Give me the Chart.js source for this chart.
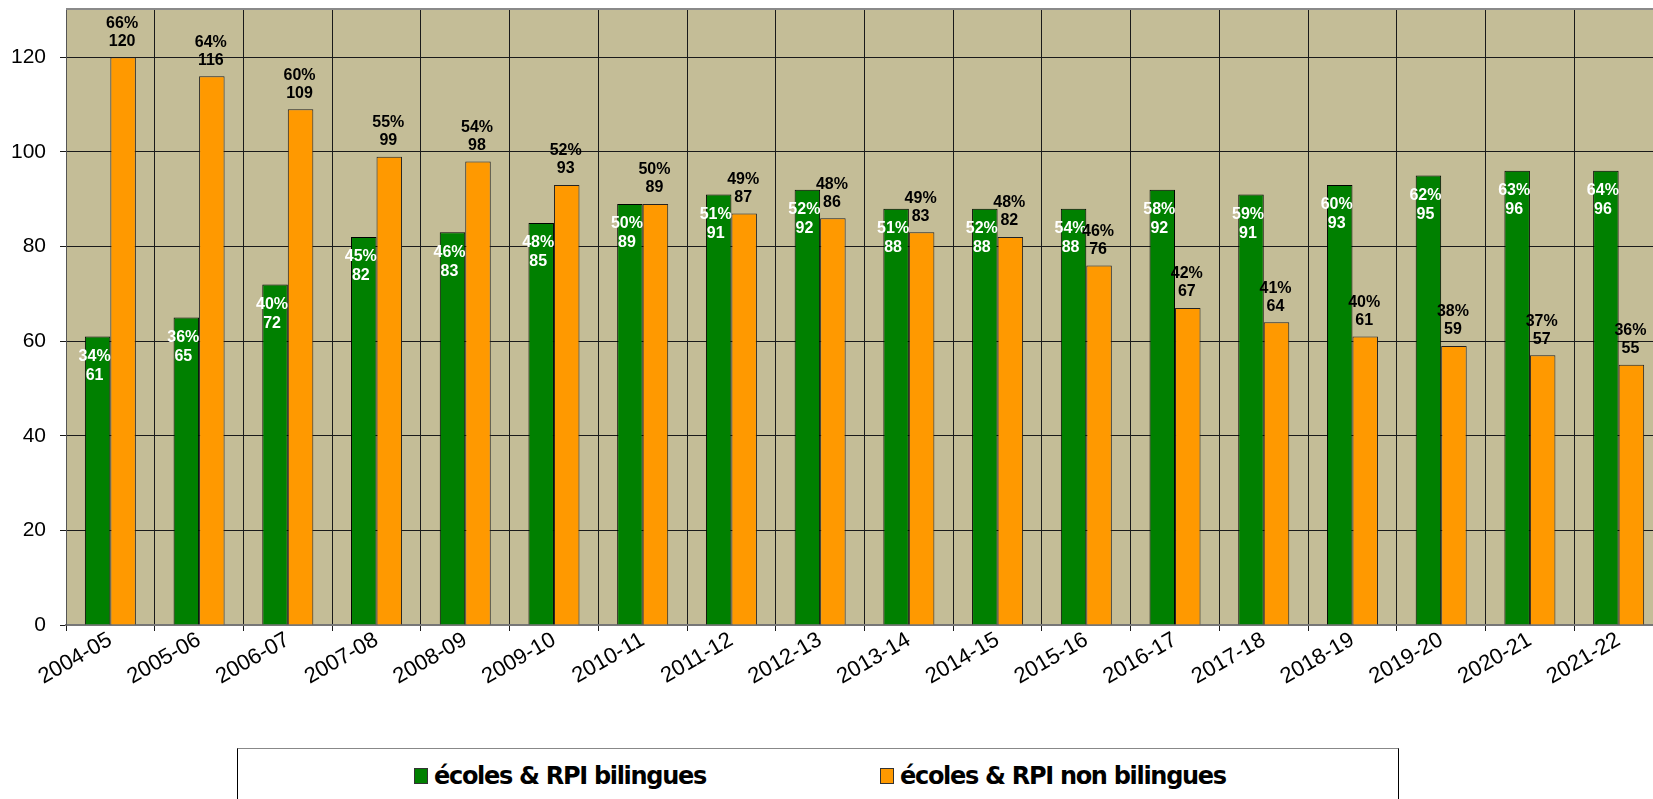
<!DOCTYPE html>
<html>
<head>
<meta charset="utf-8">
<script src="https://cdn.jsdelivr.net/npm/chart.js@4/dist/chart.umd.min.js"></script>
<style>
  html, body { margin: 0; padding: 0; background: #fff; overflow: hidden; width: 1653px; height: 799px; }
  #wrap { position: absolute; left: 0; top: 0; width: 1670px; height: 720px; }
  #legend { position: absolute; left: 237px; top: 748px; width: 1160px; height: 80px; background: #fff;
            border-top: 1px solid #888; border-left: 1px solid #000; border-right: 1px solid #000; }
  .item { position: absolute; top: 12px; font-family: "DejaVu Sans", sans-serif; font-weight: bold;
          font-size: 24px; color: #000; white-space: nowrap; line-height: 30px; letter-spacing: -1.3px; }
  .sw { display: inline-block; width: 12px; height: 14px; border: 1px solid #333; margin-right: 6px; vertical-align: 0px; }
</style>
</head>
<body>
<div id="wrap"><canvas id="c" width="1670" height="720"></canvas></div>
<div id="legend"></div>
<script>
const categories = ["2004-05","2005-06","2006-07","2007-08","2008-09","2009-10","2010-11","2011-12","2012-13","2013-14","2014-15","2015-16","2016-17","2017-18","2018-19","2019-20","2020-21","2021-22"];
const seriesNames = ["écoles & RPI bilingues", "écoles & RPI non bilingues"];
const bilingues = [61,65,72,82,83,85,89,91,92,88,88,88,92,91,93,95,96,96];
const nonBilingues = [120,116,109,99,98,93,89,87,86,83,82,76,67,64,61,59,57,55];
const pctBilingues = [34,36,40,45,46,48,50,51,52,51,52,54,58,59,60,62,63,64];
const pctNonBilingues = [66,64,60,55,54,52,50,49,48,49,48,46,42,41,40,38,37,36];
const yTicks = [0,20,40,60,80,100,120];

const GREEN = "#008000", ORANGE = "#FF9900", TAN = "#C4BD97";

const legend = document.getElementById('legend');
[[seriesNames[0], GREEN, 176], [seriesNames[1], ORANGE, 642]].forEach(([name, col, left]) => {
  const d = document.createElement('div');
  d.className = 'item';
  d.style.left = left + 'px';
  d.innerHTML = '<span class="sw" style="background:' + col + '"></span>' + name;
  legend.appendChild(d);
});

const bgPlugin = {
  id: 'bg',
  beforeDraw(chart) {
    const a = chart.chartArea, ctx = chart.ctx;
    ctx.save();
    ctx.fillStyle = TAN;
    ctx.fillRect(a.left, a.top, a.right - a.left, a.bottom - a.top);
    ctx.restore();
  },
  afterDraw(chart) {
    const a = chart.chartArea, ctx = chart.ctx;
    ctx.save();
    ctx.strokeStyle = '#8a8a8a';
    ctx.lineWidth = 2;
    ctx.beginPath();
    ctx.moveTo(a.left, a.top - 1);
    ctx.lineTo(a.right, a.top - 1);
    ctx.stroke();
    ctx.restore();
  }
};

const labelPlugin = {
  id: 'vlabels',
  afterDatasetsDraw(chart) {
    const ctx = chart.ctx;
    ctx.save();
    ctx.font = 'bold 16px "Liberation Sans", Arial, sans-serif';
    ctx.textAlign = 'center';
    ctx.textBaseline = 'middle';
    const m0 = chart.getDatasetMeta(0), m1 = chart.getDatasetMeta(1);
    m0.data.forEach((el, i) => {
      ctx.fillStyle = '#fff';
      ctx.fillText(pctBilingues[i] + '%', el.x - 3, el.y + 20);
      ctx.fillText(String(bilingues[i]), el.x - 3, el.y + 39);
    });
    m1.data.forEach((el, i) => {
      ctx.fillStyle = '#000';
      ctx.fillText(pctNonBilingues[i] + '%', el.x - 1, el.y - 34);
      ctx.fillText(String(nonBilingues[i]), el.x - 1, el.y - 16);
    });
    ctx.restore();
  }
};

new Chart(document.getElementById('c'), {
  type: 'bar',
  data: {
    labels: categories,
    datasets: [
      { label: seriesNames[0], data: bilingues, backgroundColor: GREEN, borderColor: '#000', borderWidth: 1,
        categoryPercentage: 0.575, barPercentage: 1.0 },
      { label: seriesNames[1], data: nonBilingues, backgroundColor: ORANGE, borderColor: '#222', borderWidth: 1,
        categoryPercentage: 0.575, barPercentage: 1.0 }
    ]
  },
  options: {
    responsive: false,
    devicePixelRatio: 1,
    animation: false,
    layout: { padding: { left: 0, top: 10, right: 7, bottom: 0 } },
    plugins: { legend: { display: false }, tooltip: { enabled: false } },
    scales: {
      x: {
        grid: { color: '#1a1a1a', lineWidth: 1, offset: true, tickLength: 6, drawTicks: true },
        border: { color: '#777', width: 2 },
        ticks: { color: '#000', font: { family: '"Liberation Sans", Arial, sans-serif', size: 22 },
                 minRotation: 30, maxRotation: 30, padding: -4, autoSkip: false },
        afterFit(s) { s.height = 95; s.paddingLeft = 0; s.paddingRight = 0; }
      },
      y: {
        min: 0, max: 130,
        grid: { color: '#1a1a1a', lineWidth: 1, tickLength: 6 },
        border: { color: '#555', width: 1 },
        ticks: { stepSize: 20, color: '#000', padding: 14,
                 font: { family: '"Liberation Sans", Arial, sans-serif', size: 21 } },
        afterBuildTicks(s) { s.ticks = yTicks.map(v => ({ value: v })); },
        afterFit(s) { s.width = 66; s.paddingTop = 0; s.paddingBottom = 0; }
      }
    }
  },
  plugins: [bgPlugin, labelPlugin]
});
</script>
</body>
</html>
